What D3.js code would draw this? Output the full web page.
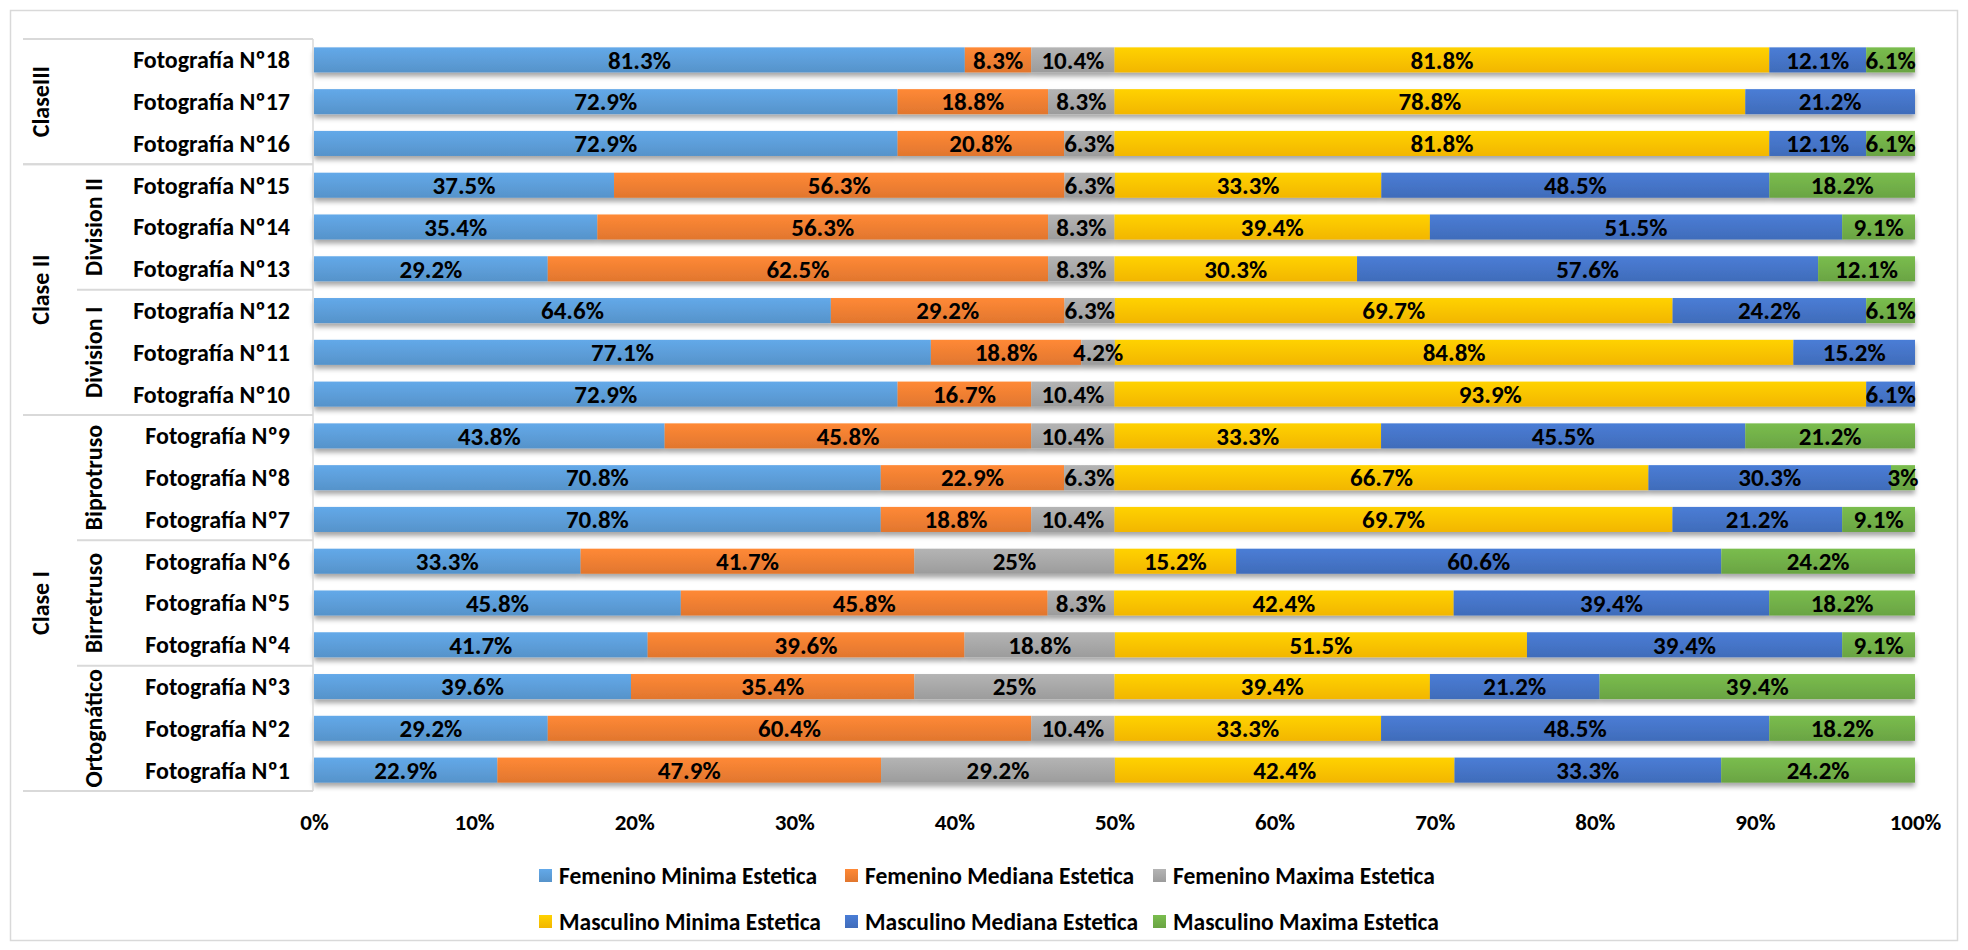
<!DOCTYPE html>
<html>
<head>
<meta charset="utf-8">
<script src="https://cdn.jsdelivr.net/npm/d3@7"></script>
<style>
  body { margin: 0; background: #fff; }
  svg text { font-family: Carlito, Calibri, Lato, sans-serif; font-weight: bold; fill: #000; }
</style>
</head>
<body>
<svg id="chart" width="1968" height="950"></svg>
<script>
// rows, bottom (Nº1) to top (Nº18)
var photos = ["Fotografía Nº1", "Fotografía Nº2", "Fotografía Nº3", "Fotografía Nº4", "Fotografía Nº5",
              "Fotografía Nº6", "Fotografía Nº7", "Fotografía Nº8", "Fotografía Nº9", "Fotografía Nº10",
              "Fotografía Nº11", "Fotografía Nº12", "Fotografía Nº13", "Fotografía Nº14", "Fotografía Nº15",
              "Fotografía Nº16", "Fotografía Nº17", "Fotografía Nº18"];

var seriesNames = ["Femenino Minima Estetica", "Femenino Mediana Estetica", "Femenino Maxima Estetica",
                   "Masculino Minima Estetica", "Masculino Mediana Estetica", "Masculino Maxima Estetica"];

var femMin = [22.9, 29.2, 39.6, 41.7, 45.8, 33.3, 70.8, 70.8, 43.8, 72.9, 77.1, 64.6, 29.2, 35.4, 37.5, 72.9, 72.9, 81.3];
var femMed = [47.9, 60.4, 35.4, 39.6, 45.8, 41.7, 18.8, 22.9, 45.8, 16.7, 18.8, 29.2, 62.5, 56.3, 56.3, 20.8, 18.8, 8.3];
var femMax = [29.2, 10.4, 25, 18.8, 8.3, 25, 10.4, 6.3, 10.4, 10.4, 4.2, 6.3, 8.3, 8.3, 6.3, 6.3, 8.3, 10.4];
var masMin = [42.4, 33.3, 39.4, 51.5, 42.4, 15.2, 69.7, 66.7, 33.3, 93.9, 84.8, 69.7, 30.3, 39.4, 33.3, 81.8, 78.8, 81.8];
var masMed = [33.3, 48.5, 21.2, 39.4, 39.4, 60.6, 21.2, 30.3, 45.5, 6.1, 15.2, 24.2, 57.6, 51.5, 48.5, 12.1, 21.2, 12.1];
var masMax = [24.2, 18.2, 39.4, 9.1, 18.2, 24.2, 9.1, 3, 21.2, 0, 0, 6.1, 12.1, 9.1, 18.2, 6.1, 0, 6.1];

// category levels: [label, first row index, last row index]
var level1 = [["Clase I", 0, 8], ["Clase II", 9, 14], ["ClaseIII", 15, 17]];
var level2 = [["Ortognático", 0, 2], ["Birretruso", 3, 5], ["Biprotruso", 6, 8],
              ["Division I", 9, 11], ["Division II", 12, 14], ["", 15, 17]];

var colors = ["#5B9BD5", "#ED7D31", "#A5A5A5", "#FFC000", "#4472C4", "#70AD47"];
var xTicks = [0, 0.1, 0.2, 0.3, 0.4, 0.5, 0.6, 0.7, 0.8, 0.9, 1];

var svg  = d3.select("#chart");
var defs = svg.append("defs");

var table = photos.map(function(p, i) {
    var r = { name: p };
    var cols = [femMin, femMed, femMax, masMin, masMed, masMax];
    seriesNames.forEach(function(s, j) { r[s] = cols[j][i]; });
    return r;
});

var x = d3.scaleLinear().domain([0, 1]).range([314, 1915]);
var y = d3.scaleBand().domain(photos.slice().reverse()).range([39, 791]).paddingInner(0.4).paddingOuter(0.2);

// outer border
svg.append("rect").attr("x", 10.5).attr("y", 10.5).attr("width", 1947).attr("height", 930)
   .attr("fill", "none").attr("stroke", "#d9d9d9").attr("stroke-width", 1.5);

// gradients + shadow
colors.forEach(function(c, i) {
    var g = defs.append("linearGradient").attr("id", "grad" + i)
        .attr("x1", 0).attr("y1", 0).attr("x2", 0).attr("y2", 1);
    g.append("stop").attr("offset", "0%").attr("stop-color", d3.color(c).brighter(0.25));
    g.append("stop").attr("offset", "100%").attr("stop-color", d3.color(c).darker(0.15));
});
var f = defs.append("filter").attr("id", "shadow").attr("x", "-2%").attr("y", "-30%").attr("width", "104%").attr("height", "180%");
f.append("feDropShadow").attr("dx", 0).attr("dy", 4).attr("stdDeviation", 2.5)
 .attr("flood-color", "#000").attr("flood-opacity", 0.35);

var stacked = d3.stack().keys(seriesNames).offset(d3.stackOffsetExpand)(table);

// bars, one group per row so the shadow falls under the whole bar
var rows = svg.append("g").selectAll("g.row")
    .data(table).enter().append("g")
    .attr("class", "row")
    .attr("filter", "url(#shadow)");

rows.selectAll("rect")
    .data(function(d, i) { return stacked.map(function(s, j) { return { s: j, v: s[i], name: d.name }; }); })
    .enter().append("rect")
    .attr("x", function(d) { return x(d.v[0]); })
    .attr("y", function(d) { return y(d.name); })
    .attr("width", function(d) { return Math.max(0, x(d.v[1]) - x(d.v[0])); })
    .attr("height", y.bandwidth())
    .attr("fill", function(d) { return "url(#grad" + d.s + ")"; });

// value labels
var labels = svg.append("g");
table.forEach(function(d, i) {
    stacked.forEach(function(s, j) {
        var raw = d[seriesNames[j]];
        if (!raw) return;
        labels.append("text")
            .attr("x", (x(s[i][0]) + x(s[i][1])) / 2)
            .attr("y", y(d.name) + y.bandwidth() / 2)
            .attr("dy", "0.35em")
            .attr("text-anchor", "middle")
            .style("font-size", "25px")
            .text(raw + "%");
    });
});

// x axis
var xAxis = svg.append("g").attr("transform", "translate(0,822)")
    .call(d3.axisBottom(x).tickValues(xTicks).tickFormat(d3.format(".0%")).tickSize(0));
xAxis.select(".domain").remove();
xAxis.selectAll("text").attr("y", 0).attr("dy", "0.35em").style("font-size", "23px")
     .style("font-family", "Carlito, Calibri, Lato, sans-serif");

// category table on the left
var cat = svg.append("g");
var lineColor = "#d9d9d9";
var top0 = y.range()[0], bottom0 = y.range()[1];
function boundary(i) { return bottom0 - i * (bottom0 - top0) / photos.length; }

cat.append("line").attr("x1", 313).attr("x2", 313).attr("y1", top0).attr("y2", bottom0)
   .attr("stroke", lineColor).attr("stroke-width", 1.5);

level1.forEach(function(g) {
    [g[1], g[2] + 1].forEach(function(b) {
        cat.append("line").attr("x1", 23).attr("x2", 313).attr("y1", boundary(b)).attr("y2", boundary(b))
           .attr("stroke", lineColor).attr("stroke-width", 2);
    });
    var cy = (boundary(g[1]) + boundary(g[2] + 1)) / 2;
    cat.append("text").attr("transform", "translate(41," + cy + ") rotate(-90)")
       .attr("text-anchor", "middle").attr("dy", "0.35em").style("font-size", "24px").text(g[0]);
});
level2.forEach(function(g) {
    var isFirst = level1.some(function(l) { return l[1] === g[1]; });
    if (!isFirst) {
        cat.append("line").attr("x1", 77).attr("x2", 313).attr("y1", boundary(g[1])).attr("y2", boundary(g[1]))
           .attr("stroke", lineColor).attr("stroke-width", 2);
    }
    var cy = (boundary(g[1]) + boundary(g[2] + 1)) / 2;
    cat.append("text").attr("transform", "translate(94," + cy + ") rotate(-90)")
       .attr("text-anchor", "middle").attr("dy", "0.35em").style("font-size", "24px").text(g[0]);
});
photos.forEach(function(p) {
    cat.append("text").attr("x", 290).attr("y", y(p) + y.bandwidth() / 2).attr("dy", "0.35em")
       .attr("text-anchor", "end").style("font-size", "24px").text(p);
});

// legend
var legendX = [539, 845, 1153];
var legendY = [876, 922];
var legend = svg.append("g");
seriesNames.forEach(function(s, i) {
    var lx = legendX[i % 3], ly = legendY[Math.floor(i / 3)];
    legend.append("rect").attr("x", lx).attr("y", ly - 7).attr("width", 13).attr("height", 13)
          .attr("fill", "url(#grad" + i + ")");
    legend.append("text").attr("x", lx + 20).attr("y", ly).attr("dy", "0.35em")
          .style("font-size", "23.5px").text(s);
});
</script>
</body>
</html>
